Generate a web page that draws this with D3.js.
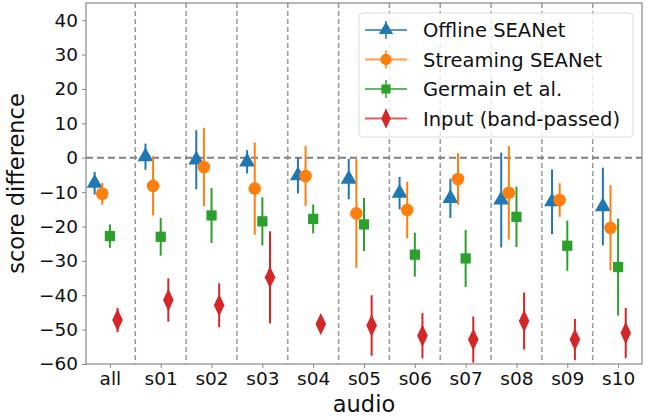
<!DOCTYPE html>
<html>
<head>
<meta charset="UTF-8">
<script src="https://d3js.org/d3.v7.min.js"></script>
<style>
    body { margin: 0; background: #fff; }
    svg { font-family: "DejaVu Sans", sans-serif; }
</style>
</head>
<body>
<svg width="651" height="417"></svg>
<script>
    const categories = ["all", "s01", "s02", "s03", "s04", "s05", "s06", "s07", "s08", "s09", "s10"];
    const seriesNames = ["Offline SEANet", "Streaming SEANet", "Germain et al.", "Input (band-passed)"];

    // mean and half-width of the error bar, per audio
    const offlineMean = [-7.4, 0.3, -0.6, -1.2, -5.2, -6.2, -10.3, -11.8, -12.3, -12.8, -14.2];
    const offlineErr = [3.3, 3.8, 8.6, 3.4, 5.2, 5.9, 4.7, 5.7, 13.8, 9.4, 11.3];
    const streamMean = [-10.5, -8.2, -2.7, -9.0, -5.3, -16.2, -15.2, -6.2, -10.2, -12.3, -20.4];
    const streamErr = [3.2, 8.6, 11.4, 13.4, 8.7, 15.8, 8.2, 7.5, 13.6, 4.9, 12.4];
    const germainMean = [-22.8, -23.0, -16.8, -18.5, -17.8, -19.4, -28.2, -29.3, -17.2, -25.6, -31.8];
    const germainErr = [3.4, 5.5, 8.0, 7.0, 4.2, 7.7, 6.4, 8.3, 8.8, 7.3, 14.1];
    const inputMean = [-47.2, -41.4, -42.9, -34.8, -48.4, -48.8, -51.8, -52.9, -47.5, -52.9, -51.0];
    const inputErr = [3.5, 6.3, 6.4, 13.4, 2.6, 8.8, 6.6, 6.7, 8.3, 6.0, 7.3];
    const yTicks = [-60, -50, -40, -30, -20, -10, 0, 10, 20, 30, 40];

    const colors = ["#1f77b4", "#ff7f0e", "#2ca02c", "#d62728"];
    const shapes = [d3.symbolTriangle, d3.symbolCircle, d3.symbolSquare, d3.symbolDiamond];
    const sizes = [110, 125, 105, 120];
    const offsets = [-0.3, -0.15, 0, 0.15];

    const series = [
        { means: offlineMean, errs: offlineErr },
        { means: streamMean, errs: streamErr },
        { means: germainMean, errs: germainErr },
        { means: inputMean, errs: inputErr }
    ];

    const plotL = 86, plotR = 642, plotT = 3, plotB = 364;
    const svg = d3.select("svg");

    const x = d3.scaleLinear().domain([-0.47, categories.length - 1 + 0.47]).range([plotL, plotR]);
    const y = d3.scaleLinear().domain([-60, 45]).range([plotB, plotT]);

    // group separators
    svg.append("g").selectAll("line")
        .data(d3.range(categories.length - 1))
        .enter().append("line")
        .attr("x1", d => x(d + 0.5)).attr("x2", d => x(d + 0.5))
        .attr("y1", plotT).attr("y2", plotB)
        .attr("stroke", "#999").attr("stroke-width", 1.5)
        .attr("stroke-dasharray", "5,3");

    // zero line
    svg.append("line")
        .attr("x1", plotL).attr("x2", plotR)
        .attr("y1", y(0)).attr("y2", y(0))
        .attr("stroke", "#808080").attr("stroke-width", 2)
        .attr("stroke-dasharray", "7,4");

    // axes
    const yAxis = svg.append("g")
        .attr("transform", `translate(${plotL},0)`)
        .call(d3.axisLeft(y).tickValues(yTicks).tickSize(4).tickPadding(4));
    const xAxis = svg.append("g")
        .attr("transform", `translate(0,${plotB})`)
        .call(d3.axisBottom(x).tickValues(d3.range(categories.length))
            .tickFormat(i => categories[i]).tickSize(4).tickPadding(4));

    [yAxis, xAxis].forEach(a => {
        a.select(".domain").remove();
        a.selectAll(".tick line").attr("stroke", "#888").attr("stroke-width", 1);
        a.selectAll("text").attr("font-size", 18.5).attr("fill", "#111")
            .attr("font-family", "DejaVu Sans, sans-serif");
    });

    svg.append("rect")
        .attr("x", plotL).attr("y", plotT)
        .attr("width", plotR - plotL).attr("height", plotB - plotT)
        .attr("fill", "none").attr("stroke", "#888").attr("stroke-width", 1.2);

    // error bars and markers
    series.forEach((s, k) => {
        const g = svg.append("g");
        g.selectAll("line")
            .data(s.means)
            .enter().append("line")
            .attr("x1", (d, i) => x(i + offsets[k])).attr("x2", (d, i) => x(i + offsets[k]))
            .attr("y1", (d, i) => y(d + s.errs[i])).attr("y2", (d, i) => y(d - s.errs[i]))
            .attr("stroke", colors[k]).attr("stroke-width", 2);
        g.selectAll("path")
            .data(s.means)
            .enter().append("path")
            .attr("d", d3.symbol().type(shapes[k]).size(sizes[k]))
            .attr("transform", (d, i) => `translate(${x(i + offsets[k])},${y(d)})` + (k === 3 ? " scale(0.9,1.1)" : ""))
            .attr("fill", colors[k]);
    });

    // legend
    const legend = svg.append("g");
    legend.append("rect")
        .attr("x", 359).attr("y", 13).attr("width", 274).attr("height", 124)
        .attr("rx", 4).attr("fill", "#fff").attr("fill-opacity", 0.8)
        .attr("stroke", "#ddd");
    seriesNames.forEach((name, k) => {
        const ly = 30 + k * 29.5;
        legend.append("line")
            .attr("x1", 365).attr("x2", 407).attr("y1", ly).attr("y2", ly)
            .attr("stroke", colors[k]).attr("stroke-width", 2).attr("opacity", 0.75);
        legend.append("line")
            .attr("x1", 386).attr("x2", 386).attr("y1", ly - 9).attr("y2", ly + 9)
            .attr("stroke", colors[k]).attr("stroke-width", 2).attr("opacity", 0.75);
        legend.append("path")
            .attr("d", d3.symbol().type(shapes[k]).size(sizes[k] * 0.8))
            .attr("transform", `translate(386,${ly})` + (k === 3 ? " scale(0.9,1.1)" : ""))
            .attr("fill", colors[k]);
        legend.append("text")
            .attr("x", 423).attr("y", ly + 7)
            .attr("font-size", 19.5).attr("fill", "#111")
            .text(name);
    });

    // axis titles
    svg.append("text")
        .attr("transform", `translate(24,${(plotT + plotB) / 2}) rotate(-90)`)
        .attr("text-anchor", "middle").attr("font-size", 22.5).attr("fill", "#111")
        .text("score difference");
    svg.append("text")
        .attr("x", (plotL + plotR) / 2).attr("y", 412)
        .attr("text-anchor", "middle").attr("font-size", 22.5).attr("fill", "#111")
        .text("audio");
</script>
</body>
</html>
